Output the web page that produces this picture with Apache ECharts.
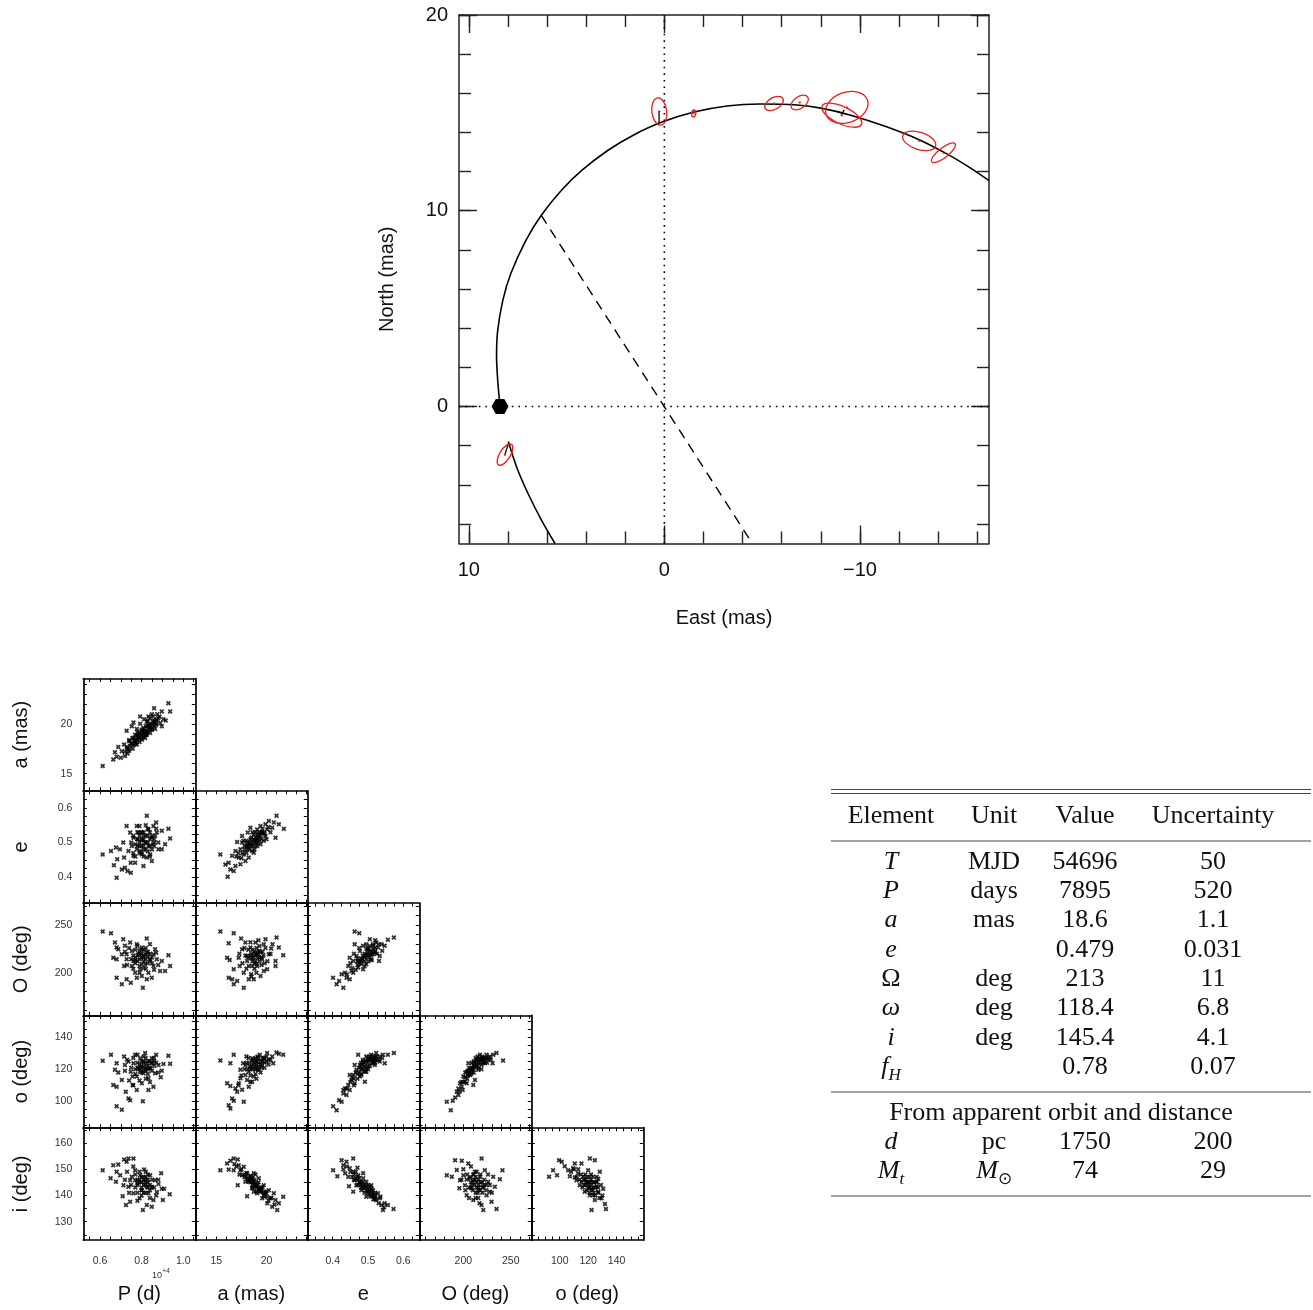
<!DOCTYPE html>
<html><head><meta charset="utf-8">
<script src="https://cdn.jsdelivr.net/npm/echarts@6/dist/echarts.min.js"></script>
<style>html,body{margin:0;padding:0;background:#fff}#c{width:1313px;height:1310px}</style>
</head><body><div id="c"></div>
<script>
// ---------------- DATA: apparent orbit ----------------
const orbitUpper = [[8.40,0.00],[8.52,1.33],[8.58,2.61],[8.52,3.89],[8.26,5.42],[7.85,6.79],[7.08,8.49],[6.29,9.77],[5.26,11.05],[4.21,12.07],[2.88,13.09],[1.59,13.86],[0.12,14.53],[-1.52,15.04],[-3.20,15.35],[-4.90,15.45],[-6.79,15.40],[-8.07,15.23],[-9.53,14.88],[-11.36,14.29],[-13.00,13.64],[-14.47,12.89],[-15.56,12.24],[-16.60,11.54]];
const orbitLower = [[7.98,-1.79],[7.55,-3.10],[6.96,-4.47],[6.27,-5.83],[5.59,-7.00]];
const lineOfNodes = [[6.30,9.77],[-4.35,-6.77]];
const primaryStar = [[8.40,0]];
// [East, North, semi-major (mas), semi-minor (mas), angle on sky (deg)]
const errorEllipses = [[0.26,15.07,0.70,0.38,97],[-1.50,14.97,0.18,0.11,80],[-5.61,15.48,0.52,0.30,30],[-6.92,15.53,0.50,0.30,35],[-9.33,15.28,1.12,0.77,20],[-9.07,14.88,1.11,0.44,-25],[-13.03,13.57,0.88,0.44,-18],[-14.27,12.96,0.75,0.25,38],[8.15,-2.46,0.62,0.27,58]];
const residualLines = [[[0.27,15.10],[0.27,14.50]],[[8.15,-2.46],[7.98,-1.90]],[[-9.20,15.15],[-9.05,14.90]]];
const orbitXTicks = [10,0,-10];
const orbitYTicks = [0,10,20];

// ---------------- DATA: corner plot samples (read per panel) ----------------
const P_a = [[0.613,15.77],[0.664,16.43],[0.680,16.70],[0.672,17.17],[0.700,16.60],[0.720,16.77],[0.733,17.03],[0.688,17.70],[0.716,17.93],[0.741,18.27],[0.757,18.60],[0.728,19.33],[0.753,19.77],[0.777,19.50],[0.793,20.03],[0.812,20.50],[0.833,20.77],[0.860,21.60],[0.849,21.00],[0.897,21.27],[0.929,22.10],[0.937,21.27],[0.916,20.37],[0.897,19.77],[0.870,19.93],[0.849,19.43],[0.825,18.93],[0.801,18.43],[0.777,17.93],[0.757,17.50],[0.737,17.43],[0.705,17.27],[0.769,18.93],[0.790,19.10],[0.809,19.60],[0.833,19.93],[0.854,20.27],[0.873,20.43],[0.825,20.27],[0.801,19.43],[0.777,18.77],[0.753,18.03],[0.729,17.70],[0.817,18.60],[0.841,19.10],[0.865,19.50],[0.886,20.77],[0.905,20.50],[0.793,20.77],[0.761,20.17],[0.745,17.8],[0.765,18.3],[0.785,18.6],[0.800,19.0],[0.815,19.3],[0.830,19.6],[0.845,19.8],[0.860,20.1],[0.790,18.2],[0.810,18.9],[0.770,18.4],[0.825,19.2],[0.840,20.6],[0.855,20.8],[0.875,21.0],[0.72,17.2],[0.73,17.6],[0.74,17.3],[0.75,18.1],[0.76,17.9],[0.77,18.0],[0.78,18.9],[0.79,18.7],[0.80,18.8],[0.80,19.3],[0.81,19.1],[0.82,19.8],[0.82,19.0],[0.83,19.3],[0.84,19.5],[0.85,20.0],[0.86,19.8],[0.87,20.3],[0.88,20.6],[0.89,20.1],[0.76,18.6],[0.78,19.2],[0.74,18.4],[0.83,20.3],[0.78,18.4],[0.79,19.0],[0.81,19.5],[0.82,18.9],[0.84,19.9],[0.85,19.5],[0.80,18.6],[0.83,19.8],[0.86,20.4],[0.77,18.2],[0.81,18.7],[0.87,20.0]];
const P_e = [[0.613,0.466],[0.653,0.476],[0.667,0.435],[0.680,0.399],[0.683,0.452],[0.677,0.486],[0.696,0.481],[0.705,0.423],[0.720,0.428],[0.732,0.418],[0.748,0.413],[0.712,0.500],[0.728,0.548],[0.745,0.529],[0.753,0.490],[0.761,0.462],[0.769,0.442],[0.780,0.510],[0.790,0.548],[0.793,0.476],[0.801,0.529],[0.809,0.433],[0.817,0.500],[0.825,0.577],[0.833,0.538],[0.841,0.466],[0.849,0.514],[0.857,0.548],[0.860,0.490],[0.873,0.529],[0.881,0.481],[0.897,0.534],[0.913,0.495],[0.929,0.540],[0.937,0.512],[0.897,0.481],[0.777,0.548],[0.761,0.514],[0.737,0.476],[0.716,0.457],[0.825,0.457],[0.849,0.447],[0.801,0.466],[0.777,0.481],[0.833,0.490],[0.809,0.519],[0.785,0.529],[0.870,0.558],[0.748,0.442],[0.790,0.500],[0.810,0.490],[0.820,0.520],[0.840,0.510],[0.800,0.505],[0.770,0.495],[0.830,0.475],[0.855,0.495],[0.865,0.520],[0.760,0.470],[0.75,0.50],[0.76,0.52],[0.77,0.46],[0.78,0.53],[0.79,0.47],[0.80,0.49],[0.80,0.53],[0.81,0.51],[0.82,0.48],[0.82,0.55],[0.83,0.50],[0.84,0.53],[0.85,0.48],[0.86,0.51],[0.87,0.54],[0.79,0.52],[0.81,0.46],[0.84,0.46],[0.78,0.49],[0.88,0.50],[0.80,0.51],[0.81,0.53],[0.82,0.50],[0.83,0.52],[0.79,0.49],[0.84,0.49],[0.85,0.52],[0.78,0.51],[0.81,0.48],[0.83,0.54],[0.86,0.50],[0.80,0.47]];
const a_e = [[15.40,0.466],[16.13,0.402],[16.40,0.423],[16.23,0.442],[16.73,0.418],[16.90,0.433],[16.57,0.462],[16.90,0.476],[17.23,0.457],[17.40,0.481],[17.57,0.500],[17.73,0.466],[18.07,0.490],[18.13,0.529],[18.40,0.510],[18.57,0.476],[18.73,0.524],[18.90,0.500],[19.07,0.538],[19.23,0.514],[19.40,0.548],[19.57,0.529],[19.73,0.505],[19.90,0.553],[20.07,0.538],[20.23,0.562],[20.57,0.543],[20.90,0.514],[21.00,0.577],[21.23,0.553],[21.73,0.540],[20.73,0.558],[19.73,0.529],[17.90,0.447],[18.23,0.457],[18.73,0.471],[17.07,0.502],[17.57,0.519],[18.40,0.543],[19.07,0.490],[19.40,0.495],[19.90,0.519],[17.40,0.438],[15.90,0.437],[18.2,0.490],[18.6,0.500],[18.9,0.515],[19.2,0.525],[17.8,0.480],[18.4,0.495],[19.5,0.510],[17.6,0.470],[18.0,0.505],[19.0,0.505],[17.0,0.46],[17.2,0.47],[17.5,0.455],[17.8,0.49],[18.0,0.47],[18.1,0.50],[18.3,0.48],[18.5,0.515],[18.6,0.49],[18.8,0.48],[18.9,0.53],[19.1,0.50],[19.3,0.505],[19.4,0.52],[19.6,0.54],[19.8,0.525],[20.0,0.51],[20.2,0.545],[20.4,0.53],[17.7,0.505],[18.3,0.50],[18.5,0.49],[18.7,0.51],[18.9,0.49],[19.1,0.52],[19.3,0.53],[18.1,0.48],[18.6,0.53],[19.5,0.53],[18.0,0.49],[19.0,0.51],[18.8,0.505]];
const P_O = [[0.613,243.3],[0.653,241.5],[0.672,231.7],[0.680,226.4],[0.664,215.8],[0.680,214.1],[0.688,224.6],[0.712,235.2],[0.720,228.2],[0.716,207.0],[0.728,219.4],[0.745,231.7],[0.753,222.9],[0.761,212.3],[0.769,200.0],[0.777,229.9],[0.785,219.4],[0.793,203.5],[0.801,226.4],[0.809,215.8],[0.817,208.8],[0.825,235.9],[0.825,221.1],[0.833,200.0],[0.841,212.3],[0.849,194.7],[0.857,207.0],[0.865,224.6],[0.873,214.1],[0.889,201.8],[0.897,212.3],[0.913,201.8],[0.929,218.3],[0.937,207.0],[0.680,194.7],[0.705,187.7],[0.728,193.0],[0.748,189.4],[0.806,184.2],[0.825,193.0],[0.777,194.7],[0.753,207.0],[0.728,214.1],[0.857,219.4],[0.801,196.5],[0.705,219.4],[0.780,212],[0.800,220],[0.820,214],[0.790,207],[0.760,218],[0.840,220],[0.810,205],[0.770,224],[0.850,210],[0.72,222],[0.73,208],[0.74,226],[0.75,214],[0.76,204],[0.77,216],[0.78,228],[0.79,219],[0.80,209],[0.81,224],[0.82,204],[0.83,217],[0.84,230],[0.85,216],[0.86,203],[0.87,221],[0.79,200],[0.82,226],[0.77,210],[0.88,208],[0.79,214],[0.80,216],[0.81,212],[0.82,219],[0.78,218],[0.83,210],[0.80,224],[0.84,214],[0.77,213],[0.81,218],[0.79,223],[0.83,222]];
const a_O = [[15.40,243.3],[16.73,241.5],[17.47,235.9],[16.23,231.0],[16.07,215.8],[16.33,213.4],[16.73,203.5],[16.23,194.7],[16.57,193.0],[16.73,187.7],[17.07,191.2],[17.73,184.2],[17.33,207.0],[17.57,224.6],[17.90,231.7],[18.07,217.6],[18.23,207.0],[18.40,226.4],[18.47,198.2],[18.73,215.8],[18.90,231.7],[19.07,207.0],[19.23,222.9],[19.40,196.5],[19.57,214.1],[19.73,229.9],[19.90,235.2],[20.07,203.5],[20.23,219.4],[20.47,225.4],[20.90,212.3],[21.00,237.0],[20.90,207.0],[21.23,226.4],[21.67,218.3],[18.73,193.0],[18.23,193.0],[17.73,200.0],[18.57,207.0],[19.07,219.4],[18.07,212.3],[19.73,201.8],[17.23,215.8],[18.5,220],[18.9,212],[19.3,216],[19.6,222],[18.2,224],[19.0,226],[18.8,204],[19.8,210],[17.3,220],[17.6,210],[17.8,226],[18.0,204],[18.2,216],[18.4,232],[18.6,212],[18.8,222],[19.0,200],[19.1,216],[19.3,228],[19.5,208],[19.7,218],[19.9,226],[20.1,212],[20.4,220],[18.5,196],[19.2,234],[17.9,218],[20.6,230],[18.7,218],[18.9,220],[19.1,221],[19.3,212],[18.5,215],[19.5,216],[18.8,210],[19.2,219],[18.6,224],[19.4,222],[19.0,209],[18.4,218]];
const e_O = [[0.401,194.7],[0.411,187.7],[0.430,184.2],[0.418,191.2],[0.425,198.2],[0.439,194.7],[0.448,193.0],[0.435,200.0],[0.444,207.0],[0.453,201.8],[0.458,212.3],[0.462,229.9],[0.462,243.3],[0.475,241.5],[0.467,217.6],[0.472,205.3],[0.477,222.9],[0.481,212.3],[0.486,228.2],[0.491,217.6],[0.495,208.8],[0.500,224.6],[0.505,235.2],[0.509,214.1],[0.514,229.9],[0.519,221.1],[0.523,231.7],[0.528,226.4],[0.533,217.6],[0.538,229.9],[0.547,228.2],[0.556,234.5],[0.573,237.0],[0.531,212.3],[0.458,200.0],[0.486,203.5],[0.500,215.8],[0.472,212.3],[0.514,219.4],[0.448,215.8],[0.490,220],[0.480,215],[0.500,212],[0.510,222],[0.520,226],[0.470,208],[0.495,225],[0.505,218],[0.44,198],[0.45,210],[0.455,205],[0.46,220],[0.465,203],[0.47,215],[0.475,226],[0.48,209],[0.485,218],[0.49,212],[0.495,230],[0.50,221],[0.505,228],[0.51,213],[0.515,225],[0.52,234],[0.525,220],[0.53,230],[0.54,223],[0.49,207],[0.485,214],[0.49,216],[0.495,219],[0.50,218],[0.505,223],[0.51,219],[0.48,212],[0.515,228],[0.52,222],[0.475,210],[0.50,226],[0.47,212]];
const P_o = [[0.613,125.3],[0.653,129.1],[0.672,119.6],[0.680,123.8],[0.688,117.9],[0.664,110.1],[0.680,109.1],[0.680,96.8],[0.705,94.7],[0.705,113.3],[0.716,128.0],[0.720,122.7],[0.724,105.9],[0.737,101.7],[0.745,100.6],[0.748,118.5],[0.757,110.1],[0.761,123.8],[0.769,129.1],[0.777,115.4],[0.785,120.6],[0.793,126.9],[0.801,111.2],[0.806,100.0],[0.809,117.5],[0.817,130.1],[0.825,123.8],[0.833,114.3],[0.841,120.6],[0.849,126.9],[0.857,109.1],[0.865,117.5],[0.870,129.1],[0.881,122.7],[0.897,119.1],[0.905,123.2],[0.929,128.4],[0.937,123.4],[0.892,115.0],[0.833,107.0],[0.777,107.0],[0.793,118.5],[0.737,124.8],[0.849,123.8],[0.809,124.8],[0.757,115.4],[0.800,121],[0.820,119],[0.840,125],[0.780,124],[0.860,122],[0.810,128],[0.770,120],[0.830,117],[0.72,119],[0.73,126],[0.74,113],[0.75,121],[0.76,127],[0.77,117],[0.78,129],[0.79,113],[0.80,125],[0.81,119],[0.82,127],[0.83,122],[0.84,112],[0.85,119],[0.86,127],[0.87,124],[0.88,118],[0.79,120],[0.82,114],[0.76,110],[0.80,122],[0.81,124],[0.82,121],[0.83,125],[0.79,123],[0.84,121],[0.85,124],[0.78,121],[0.81,121.5],[0.86,125],[0.80,118],[0.83,120]];
const a_o = [[15.40,125.5],[16.40,123.8],[16.73,129.1],[16.07,111.2],[16.40,109.5],[16.23,97.5],[16.40,95.4],[16.57,101.7],[16.73,100.2],[17.07,105.9],[17.23,111.2],[17.40,114.3],[17.73,99.6],[17.40,119.6],[17.67,123.8],[18.00,128.0],[17.90,116.4],[18.23,109.1],[18.33,121.7],[18.57,126.9],[18.73,115.4],[18.90,119.6],[19.07,124.8],[19.33,129.1],[19.57,122.7],[19.73,126.9],[20.07,130.1],[20.23,125.9],[20.57,128.0],[20.67,123.8],[21.00,130.5],[21.23,129.7],[21.67,129.1],[18.57,112.2],[18.23,118.5],[17.90,122.7],[18.73,122.7],[19.23,119.6],[18.07,113.3],[17.57,107.2],[18.6,120],[19.0,123],[19.4,125],[18.3,124],[19.8,124],[18.9,127],[18.1,120],[17.8,120],[18.0,124],[18.2,127],[18.4,116],[18.5,122],[18.7,126],[18.9,117],[19.1,128],[19.2,122],[19.4,118],[19.6,127],[19.8,121],[20.0,128],[20.2,123],[20.4,126],[17.5,116],[17.2,110],[16.9,108],[18.4,112],[19.0,114],[19.0,125],[19.2,127],[19.4,123],[19.6,125],[18.8,124],[19.8,127],[18.6,125],[19.1,120],[19.5,121],[18.9,121],[20.0,125],[18.4,120]];
const e_o = [[0.401,96.8],[0.411,94.3],[0.418,100.6],[0.425,99.6],[0.430,104.8],[0.439,103.8],[0.435,108.0],[0.444,110.1],[0.448,107.0],[0.453,113.3],[0.458,116.4],[0.462,111.2],[0.467,119.6],[0.472,129.1],[0.477,122.7],[0.481,116.4],[0.486,124.8],[0.491,118.5],[0.495,128.0],[0.500,121.7],[0.505,125.9],[0.509,129.1],[0.514,123.8],[0.519,126.9],[0.523,130.1],[0.533,128.0],[0.542,129.1],[0.547,123.8],[0.556,129.1],[0.573,130.1],[0.491,112.2],[0.462,122.7],[0.477,115.4],[0.495,118.5],[0.519,122.7],[0.448,116.4],[0.430,107.0],[0.533,124.8],[0.480,120],[0.490,122],[0.500,124],[0.510,126],[0.470,117],[0.460,114],[0.520,128],[0.485,126],[0.44,108],[0.45,112],[0.455,115],[0.46,110],[0.465,118],[0.47,114],[0.475,121],[0.48,117],[0.485,123],[0.49,119],[0.495,125],[0.50,127],[0.505,122],[0.51,128],[0.515,125],[0.52,124],[0.525,128],[0.53,126],[0.54,127],[0.48,124],[0.49,124],[0.495,121],[0.50,126],[0.505,128],[0.51,124],[0.515,127],[0.485,120],[0.52,126],[0.48,122],[0.475,118],[0.50,120],[0.525,126]];
const O_o = [[182.5,99.6],[186.7,94.3],[188.8,100.2],[191.3,102.3],[193.0,105.9],[194.8,103.8],[196.5,111.2],[198.3,109.1],[200.0,115.4],[201.7,112.2],[203.5,118.5],[205.2,123.8],[207.0,116.4],[208.7,120.6],[210.5,122.7],[212.2,113.3],[214.0,125.9],[215.7,119.6],[217.5,129.1],[219.2,122.7],[221.0,126.9],[222.7,123.8],[224.5,129.1],[226.2,125.9],[228.0,128.0],[231.5,129.1],[235.0,130.1],[230.8,123.8],[241.9,125.5],[210.5,110.1],[203.5,111.2],[199.3,107.0],[207.0,119.6],[214.0,121.7],[219.2,125.9],[194.8,108.0],[212,124],[216,126],[209,118],[205,116],[218,124],[220,128],[211,121],[202,115],[196,106],[198,112],[200,112],[202,118],[204,114],[206,121],[208,117],[209,124],[211,118],[213,127],[214,123],[216,121],[217,127],[219,120],[221,124],[223,127],[225,124],[227,127],[229,126],[205,119],[210,120],[212,122],[214,124],[216,124],[218,126],[208,119],[220,126],[222,125],[206,117],[224,127],[215,128],[211,125]];
const P_i = [[0.613,149.6],[0.664,151.5],[0.688,151.8],[0.716,153.7],[0.737,154.1],[0.761,154.1],[0.728,152.8],[0.680,149.0],[0.651,146.5],[0.677,145.2],[0.697,147.7],[0.713,143.9],[0.709,139.7],[0.725,136.3],[0.745,137.6],[0.737,143.3],[0.753,147.1],[0.761,140.8],[0.769,149.6],[0.780,144.6],[0.790,138.9],[0.793,147.7],[0.801,142.0],[0.806,134.4],[0.812,149.9],[0.817,145.2],[0.825,136.3],[0.833,140.8],[0.841,147.7],[0.849,143.3],[0.857,138.2],[0.865,145.8],[0.873,141.3],[0.881,144.3],[0.894,148.4],[0.897,142.5],[0.902,138.2],[0.908,142.5],[0.935,140.4],[0.769,145.8],[0.825,143.3],[0.745,145.8],[0.849,135.7],[0.790,145],[0.810,147],[0.800,143],[0.830,146],[0.770,148],[0.840,142],[0.780,141],[0.820,149],[0.72,146],[0.73,149],[0.74,141],[0.75,144],[0.76,151],[0.77,143],[0.78,146],[0.79,149],[0.80,140],[0.81,144],[0.82,146],[0.83,143],[0.84,139],[0.85,146],[0.86,143],[0.87,140],[0.88,146],[0.80,147],[0.82,141],[0.78,138],[0.80,145],[0.81,146],[0.82,144],[0.83,145],[0.79,146],[0.84,144],[0.80,142],[0.82,147],[0.78,144],[0.85,143],[0.81,141],[0.83,148]];
const a_i = [[15.40,149.6],[16.07,152.2],[16.40,153.2],[16.73,154.1],[17.13,153.7],[16.23,149.9],[16.73,149.6],[17.23,151.5],[17.13,143.9],[17.57,147.7],[17.73,150.9],[18.07,148.4],[18.07,139.7],[18.23,145.2],[18.47,147.1],[18.57,142.7],[18.73,148.4],[18.90,144.6],[19.07,140.8],[19.23,146.5],[19.40,142.7],[19.57,138.9],[19.73,143.9],[19.90,140.8],[20.07,137.0],[20.23,142.0],[20.40,138.9],[20.57,135.7],[20.73,140.8],[20.90,138.2],[21.07,134.4],[21.23,137.0],[21.67,139.5],[18.57,146.5],[17.90,145.2],[19.07,143.9],[19.73,140.1],[18.73,141.4],[17.40,149.6],[20.07,139.5],[18.4,145],[18.8,144],[19.2,142.5],[18.0,147],[19.5,141.5],[18.6,146.5],[17.8,148],[17.0,151],[17.3,148],[17.5,150],[17.8,147],[18.0,148.5],[18.2,146],[18.4,147.5],[18.6,144],[18.8,146],[19.0,143],[19.2,145],[19.4,141.5],[19.6,143],[19.8,139.5],[20.0,141.5],[20.2,138],[20.5,139],[20.8,136.5],[16.8,152],[18.9,148],[18.5,145.5],[18.7,145],[18.9,143.5],[19.1,144],[19.3,142],[19.5,143],[18.3,146],[19.7,141],[18.1,146.5],[19.9,141],[19.0,141.5],[18.6,143]];
const e_i = [[0.401,149.6],[0.413,147.3],[0.425,153.4],[0.439,152.8],[0.458,154.1],[0.430,151.5],[0.448,150.3],[0.435,148.4],[0.444,147.1],[0.458,149.0],[0.462,145.8],[0.446,143.5],[0.458,141.4],[0.472,147.7],[0.477,144.6],[0.486,146.5],[0.491,142.7],[0.495,145.2],[0.500,140.8],[0.505,143.3],[0.509,139.5],[0.514,142.0],[0.519,140.1],[0.523,138.2],[0.533,138.9],[0.538,136.3],[0.542,134.4],[0.547,137.0],[0.556,136.3],[0.572,134.8],[0.481,142.0],[0.467,143.9],[0.486,148.4],[0.509,143.9],[0.528,140.8],[0.495,139.5],[0.470,146],[0.480,145],[0.490,144],[0.500,142.5],[0.510,141.5],[0.460,148],[0.520,139.5],[0.455,147],[0.43,150],[0.44,151],[0.45,149],[0.46,146],[0.465,149],[0.47,144],[0.475,146.5],[0.48,143],[0.485,145],[0.49,141],[0.495,143.5],[0.50,144],[0.505,140],[0.51,142.5],[0.515,138.5],[0.52,141],[0.53,137],[0.535,139.5],[0.545,135.5],[0.47,150.5],[0.48,144],[0.485,143],[0.49,143.5],[0.495,142],[0.50,141.5],[0.51,140.5],[0.475,145],[0.505,142],[0.515,140],[0.47,147],[0.52,138.5],[0.465,146.5]];
const O_i = [[182.5,147.7],[187.8,147.1],[191.3,153.4],[198.3,153.2],[193.0,149.7],[196.5,145.8],[195.8,142.7],[200.0,147.7],[201.7,143.9],[203.5,140.1],[205.2,152.2],[207.0,146.5],[208.7,142.7],[210.5,138.2],[212.2,149.0],[214.0,145.2],[215.7,142.0],[217.5,147.1],[219.2,154.1],[219.2,136.3],[221.0,143.3],[222.7,149.6],[224.5,140.1],[226.2,145.2],[228.0,141.4],[229.7,137.6],[231.5,147.1],[233.2,143.3],[235.0,134.8],[238.5,146.2],[241.3,149.6],[221.0,134.4],[203.5,146.1],[210.5,148.0],[215.7,139.0],[224.5,144.0],[212,144],[208,145],[216,146],[220,145],[206,143],[213,141],[218,142],[198,146],[200,150],[202,142],[204,148],[206,139],[208,151],[209,144],[211,146],[213,139],[214,149],[216,143],[218,148],[220,141],[222,146],[224,142],[226,148],[228,144],[230,141],[210,142],[217,137],[210,145],[212,146],[214,143],[216,144],[218,145],[208,143],[220,143],[211,148],[213,147],[215,141],[222,144],[207,147]];
const o_i = [[92.5,147.1],[95.3,149.6],[98.1,147.7],[99.5,153.4],[101.4,152.8],[103.5,151.1],[105.9,149.6],[107.1,147.3],[109.4,150.3],[110.6,152.2],[111.8,145.8],[112.9,148.4],[114.1,143.9],[115.3,152.2],[116.5,147.1],[117.6,141.4],[118.8,145.2],[120.0,149.6],[121.2,140.1],[121.2,154.1],[122.4,142.5],[123.5,147.1],[124.7,153.4],[124.7,138.2],[125.9,145.2],[127.1,141.4],[128.2,149.0],[129.4,138.9],[130.6,142.5],[131.8,136.7],[132.5,134.8],[122.4,134.4],[115.3,145.2],[120.0,142.7],[123.5,140.1],[127.1,146.3],[110.6,146.8],[118,144],[121,145],[124,143],[119,147],[122,148],[126,143.5],[117,146],[108,149],[110,150],[112,147],[113,150],[114,146],[115,148],[116,143],[118,148],[119,142],[120,145],[121,141],[122,146],[123,142],[124,145],[125,140],[126,147],[127,143],[128,139],[129,144],[130,140],[120,144],[121,143],[122,144],[123,145],[124,141],[125,143],[119,145],[118,146],[126,145],[127,141],[121,147],[117,144]];

const colVars = ['P','a','e','O','o'];
const rowVars = ['a','e','O','o','i'];
const colNames = ['P (d)','a (mas)','e','O (deg)','o (deg)'];
const rowNames = ['a (mas)','e','O (deg)','o (deg)','i (deg)'];
const cornerTickLabels = {P:[0.6,0.8,1.0], a:[15,20], e:[0.4,0.5,0.6], O:[200,250], o:[100,120,140], i:[130,140,150,160]};

// ---------------- DATA: table ----------------
const tableHeader = ['Element','Unit','Value','Uncertainty'];
const elementSymbols = ['T','P','a','e','Ω','ω','i','f_H'];
const elementUnits = ['MJD','days','mas','','deg','deg','deg',''];
const elementValues = ['54696','7895','18.6','0.479','213','118.4','145.4','0.78'];
const elementErrors = ['50','520','1.1','0.031','11','6.8','4.1','0.07'];
const derivedTitle = 'From apparent orbit and distance';
const derivedSymbols = ['d','M_t'];
const derivedUnits = ['pc','M_⊙'];
const derivedValues = ['1750','74'];
const derivedErrors = ['200','29'];

// ---------------- LAYOUT / STYLE ----------------
const SANS = '"Liberation Sans", Arial, Helvetica, sans-serif';
const SERIF = '"Liberation Serif", "Times New Roman", serif';
const colRange = {P:[0.52,1.058], a:[12.9,24.07], e:[0.328,0.645], O:[153.5,271.7], o:[80,158.8]};
const rowRange = {a:[13.27,24.6], e:[0.326,0.649], O:[155,273.2], o:[83.4,153.7], i:[123,165.8]};
const tickStep = {P:0.05, a:1, e:0.025, O:10, o:5, i:5};
const labelDec = {P:1, a:0, e:1, O:0, o:0, i:0};
const CL = 83.3, CT = 678.5, CW = 112, CH = 112.3;

function stepValues(lo, hi, step) {
  const out = [];
  for (let k = Math.ceil(lo / step - 1e-9); k * step <= hi + 1e-9; k++) out.push(+(k * step).toFixed(6));
  return out;
}
const minusFmt = v => v < 0 ? '\u2212' + Math.abs(v) : String(v);

const grid = [], xAxis = [], yAxis = [], series = [];

// ---- top orbit panel ----
grid.push({left:459, top:15, width:530, height:528.5, containLabel:false, outerBoundsMode:'none'});
const OX = [-16.6, 10.5], OY = [-7, 20];
function orbitAxis(dim, pos, ticks, len, labels, name) {
  const isX = dim === 'x';
  const ax = {
    type:'value', gridIndex:0, position:pos, min: isX ? OX[0] : OY[0], max: isX ? OX[1] : OY[1],
    inverse: isX, splitLine:{show:false},
    axisLine:{show:true, onZero:false, lineStyle:{color:'#222', width:1.5}},
    axisTick:{show:true, inside:true, length:len, customValues:ticks, lineStyle:{color:'#222', width:1.4}},
    axisLabel:{show: !!labels, customValues: labels || [], formatter:minusFmt, fontSize:20, color:'#111', fontFamily:SANS, margin: isX ? 17 : 11}
  };
  if (name) Object.assign(ax, {name, nameLocation:'middle', nameGap: isX ? 65 : 62, nameTextStyle:{fontSize:20, color:'#111', fontFamily:SANS}});
  return ax;
}
xAxis.push(orbitAxis('x','bottom', stepValues(OX[0],OX[1],2), 12, orbitXTicks, 'East (mas)'));
xAxis.push(orbitAxis('x','top', stepValues(OX[0],OX[1],2), 12, false));
xAxis.push(Object.assign(orbitAxis('x','bottom', orbitXTicks, 18, null), {axisLine:{show:false, onZero:false}}));
xAxis.push(Object.assign(orbitAxis('x','top', orbitXTicks, 18, null), {axisLine:{show:false, onZero:false}}));
yAxis.push(orbitAxis('y','left', stepValues(OY[0],OY[1],2), 12, orbitYTicks, 'North (mas)'));
yAxis.push(orbitAxis('y','right', stepValues(OY[0],OY[1],2), 12, false));
yAxis.push(Object.assign(orbitAxis('y','left', orbitYTicks, 18, null), {axisLine:{show:false, onZero:false}}));
yAxis.push(Object.assign(orbitAxis('y','right', orbitYTicks, 18, null), {axisLine:{show:false, onZero:false}}));

const base = {xAxisIndex:0, yAxisIndex:0, silent:true, animation:false};
series.push(Object.assign({type:'line', data:[[0,OY[0]],[0,OY[1]]], showSymbol:false, symbol:'none', lineStyle:{color:'#000', width:1.6, type:[1.6,5]}, z:2}, base));
series.push(Object.assign({type:'line', data:[[OX[1],0],[OX[0],0]], showSymbol:false, symbol:'none', lineStyle:{color:'#000', width:1.6, type:[1.6,5]}, z:2}, base));
series.push(Object.assign({type:'line', data:lineOfNodes, showSymbol:false, symbol:'none', lineStyle:{color:'#000', width:1.4, type:[10,7]}, z:3}, base));
series.push(Object.assign({type:'line', data:orbitUpper, smooth:0.3, showSymbol:false, symbol:'none', lineStyle:{color:'#000', width:1.6}, z:4}, base));
series.push(Object.assign({type:'line', data:orbitLower, smooth:0.3, showSymbol:false, symbol:'none', lineStyle:{color:'#000', width:1.6}, z:4}, base));
residualLines.forEach(seg => series.push(Object.assign({type:'line', data:seg, showSymbol:false, symbol:'none', lineStyle:{color:'#000', width:1.3}, z:5}, base)));
series.push(Object.assign({
  type:'custom', data:errorEllipses, encode:{x:0, y:1}, z:6,
  renderItem: (params, api) => {
    const c = api.coord([api.value(0), api.value(1)]);
    const s = api.size([api.value(2), api.value(3)]);
    return {type:'ellipse', x:c[0], y:c[1], rotation: api.value(4) * Math.PI / 180,
      shape:{cx:0, cy:0, rx:Math.abs(s[0]), ry:Math.abs(s[1])},
      style:{fill:'none', stroke:'#ee1c1c', lineWidth:1.3}};
  }
}, base));
series.push(Object.assign({type:'scatter', data:errorEllipses.map(d => [d[0], d[1]]), symbol:'circle', symbolSize:2.5, itemStyle:{color:'#ee1c1c'}, z:7}, base));
series.push(Object.assign({type:'scatter', data:primaryStar, symbol:'path://M0,5L3,0L9,0L12,5L9,10L3,10Z', symbolSize:[17,15], itemStyle:{color:'#000', opacity:1}, z:8}, base));

// ---- corner panels ----
const panelData = {P_a, P_e, a_e, P_O, a_O, e_O, P_o, a_o, e_o, O_o, P_i, a_i, e_i, O_i, o_i};
const CROSS = 'path://M0,1.5L1.5,0L3,1.5L4.5,0L6,1.5L4.5,3L6,4.5L4.5,6L3,4.5L1.5,6L0,4.5L1.5,3Z';
function cornerAxis(dim, pos, gi, v, range, withLabels, name) {
  const isX = dim === 'x';
  const dec = labelDec[v];
  const ax = {
    type:'value', gridIndex:gi, position:pos, min:range[0], max:range[1], splitLine:{show:false},
    axisLine:{show:true, onZero:false, lineStyle:{color:'#000', width:1.7}},
    axisTick:{show:true, inside:true, length:3.5, customValues:stepValues(range[0], range[1], tickStep[v]), lineStyle:{color:'#000', width:1}},
    axisLabel:{show:withLabels, customValues:cornerTickLabels[v], formatter: x => x.toFixed(dec), fontSize:10.5, color:'#333', fontFamily:SANS, margin: isX ? 16 : 11}
  };
  if (name) Object.assign(ax, {name, nameLocation:'middle', nameGap: isX ? 44 : 52, nameTextStyle:{fontSize:20, color:'#111', fontFamily:SANS}});
  return ax;
}
for (let r = 0; r < 5; r++) {
  for (let c = 0; c <= r; c++) {
    const gi = grid.length;
    grid.push({left: CL + c * CW, top: CT + r * CH, width: CW, height: CH, containLabel:false, outerBoundsMode:'none'});
    const xv = colVars[c], yv = rowVars[r];
    const xi = xAxis.length, yi = yAxis.length;
    xAxis.push(cornerAxis('x','bottom', gi, xv, colRange[xv], r === 4, r === 4 ? colNames[c] : null));
    xAxis.push(cornerAxis('x','top', gi, xv, colRange[xv], false, null));
    yAxis.push(cornerAxis('y','left', gi, yv, rowRange[yv], c === 0, c === 0 ? rowNames[r] : null));
    yAxis.push(cornerAxis('y','right', gi, yv, rowRange[yv], false, null));
    series.push({type:'scatter', xAxisIndex:xi, yAxisIndex:yi, data:panelData[xv + '_' + yv], symbol:CROSS, symbolSize:5,
      itemStyle:{color:'#000'}, silent:true, animation:false, z:3});
  }
}

// ---- table and extra text (graphic) ----
const graphic = [];
const TX = [891, 994, 1085, 1213];
const RICH = {
  i:{fontFamily:SERIF, fontSize:26, fontStyle:'italic', lineHeight:26, verticalAlign:'top'},
  r:{fontFamily:SERIF, fontSize:26, lineHeight:26, verticalAlign:'top'},
  si:{fontFamily:SERIF, fontSize:17, fontStyle:'italic', lineHeight:17, verticalAlign:'top', padding:[13,0,0,0]},
  sr:{fontFamily:SERIF, fontSize:17, lineHeight:17, verticalAlign:'top', padding:[13,0,0,0]}
};
function symRich(s, isSymbol) {
  if (s.indexOf('_') >= 0) {
    const [b, sub] = s.split('_');
    return '{i|' + b + '}{' + (sub === '⊙' ? 'sr' : 'si') + '|' + sub + '}';
  }
  if (!s) return '';
  if (isSymbol && s !== 'Ω') return '{i|' + s + '}';
  return '{r|' + s + '}';
}
function tText(x, yc, txt) {
  graphic.push({type:'text', x:x, y:yc - 13, silent:true,
    style:{text:txt, rich:RICH, fontFamily:SERIF, fontSize:26, fill:'#111', align:'center', verticalAlign:'top'}});
}
function hLine(y) {
  graphic.push({type:'line', silent:true, shape:{x1:831, y1:y, x2:1311, y2:y}, style:{stroke:'#444', lineWidth:1.2}});
}
hLine(789.5); hLine(793.5); hLine(841); hLine(1092); hLine(1196);
tableHeader.forEach((h, k) => tText(TX[k], 816, '{r|' + h + '}'));
const ROW0 = 862, ROWH = 29.3;
elementSymbols.forEach((s, k) => {
  const y = ROW0 + k * ROWH;
  tText(TX[0], y, symRich(s, true));
  tText(TX[1], y, symRich(elementUnits[k], false));
  tText(TX[2], y, '{r|' + elementValues[k] + '}');
  tText(TX[3], y, '{r|' + elementErrors[k] + '}');
});
tText(1061, 1113, '{r|' + derivedTitle + '}');
derivedSymbols.forEach((s, k) => {
  const y = 1142 + k * ROWH;
  tText(TX[0], y, symRich(s, true));
  tText(TX[1], y, symRich(derivedUnits[k], false));
  tText(TX[2], y, '{r|' + derivedValues[k] + '}');
  tText(TX[3], y, '{r|' + derivedErrors[k] + '}');
});
// 10^+4 multiplier under the P axis
graphic.push({type:'text', x:152, y:1268, silent:true,
  style:{text:'{b|10}{s|+4}', rich:{b:{fontSize:9, fontFamily:SANS, fill:'#333', verticalAlign:'top', padding:[3,0,0,0]}, s:{fontSize:7, fontFamily:SANS, fill:'#333', verticalAlign:'top'}}, align:'left', verticalAlign:'top'}});

const chart = echarts.init(document.getElementById('c'), null, {renderer:'canvas'});
chart.setOption({backgroundColor:'#fff', animation:false, grid, xAxis, yAxis, series, graphic});
</script></body></html>
